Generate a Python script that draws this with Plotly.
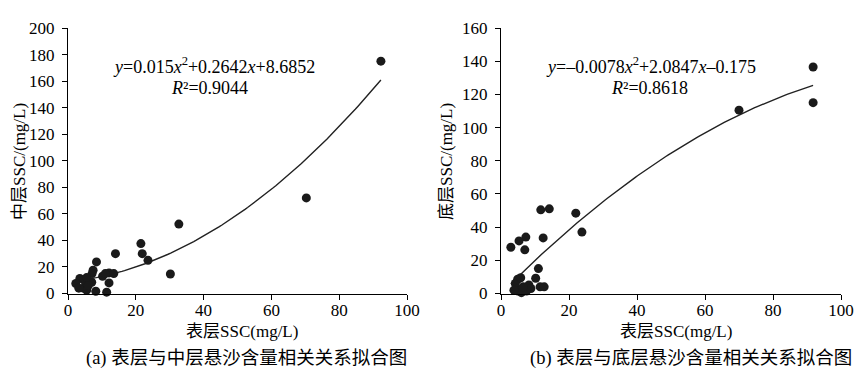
import numpy as np
import plotly.graph_objects as go

# ---- data ----
a_surface = [92.3, 70.3, 32.7, 21.5, 21.9, 23.6, 30.2, 14.0, 8.4, 7.4, 7.1, 12.1, 10.2, 12.1,
             8.2, 11.4, 3.5, 2.3, 4.5, 5.5, 3.2, 7.0, 4.8, 5.5, 6.0, 13.5, 11.0]
a_middle = [175.0, 72.0, 52.3, 37.6, 30.0, 25.0, 14.7, 30.0, 23.8, 17.5, 15.0, 15.5, 13.0, 8.0,
            1.7, 1.0, 11.3, 7.5, 4.0, 2.5, 4.0, 8.5, 10.0, 12.0, 6.0, 15.0, 15.0]

b_surface = [91.8, 91.8, 70.0, 22.0, 23.8, 11.7, 14.2, 12.4, 7.3, 5.3, 7.0, 2.9, 11.0, 10.2,
             11.5, 12.7, 8.2, 4.9, 4.2, 4.5, 5.0, 6.0, 7.5, 8.8, 6.5, 3.8, 5.8]
b_bottom = [136.5, 115.0, 110.5, 48.4, 37.0, 50.4, 51.0, 33.5, 34.0, 31.7, 26.3, 27.9, 15.0, 9.2,
            4.0, 4.0, 5.1, 8.6, 6.0, 3.0, 1.5, 0.5, 1.5, 3.0, 4.0, 2.0, 9.5]

# fitted polynomial coefficients printed on the chart (c2, c1, c0)
a_coef = [0.015, 0.2642, 8.6852]
b_coef = [-0.0078, 2.0847, -0.175]

x_ticks = [0, 20, 40, 60, 80, 100]
a_y_ticks = [0, 20, 40, 60, 80, 100, 120, 140, 160, 180, 200]
b_y_ticks = [0, 20, 40, 60, 80, 100, 120, 140, 160]

# page body has an 8px default margin; size the figure to fill the rest of the window
OFF = 8
W, H = 862 - OFF, 382 - OFF
def px(x): return (x - OFF) / W
def py(y): return 1 - (y - OFF) / H

SERIF = "Liberation Serif, Noto Sans CJK SC"
CJK = "Liberation Serif, Noto Sans CJK SC"

fig = go.Figure()

def trend(xs, coef):
    xx = np.linspace(min(xs), max(xs), 120)
    return xx, coef[0] * xx ** 2 + coef[1] * xx + coef[2]

tx, ty = trend(a_surface, a_coef)
fig.add_trace(go.Scatter(x=tx, y=ty, mode="lines", line=dict(color="#222", width=1.4),
                         xaxis="x", yaxis="y", showlegend=False))
fig.add_trace(go.Scatter(x=a_surface, y=a_middle, mode="markers",
                         marker=dict(color="#1a1a1a", size=9),
                         xaxis="x", yaxis="y", showlegend=False, cliponaxis=False))

tx, ty = trend(b_surface, b_coef)
fig.add_trace(go.Scatter(x=tx, y=ty, mode="lines", line=dict(color="#222", width=1.4),
                         xaxis="x2", yaxis="y2", showlegend=False))
fig.add_trace(go.Scatter(x=b_surface, y=b_bottom, mode="markers",
                         marker=dict(color="#1a1a1a", size=9),
                         xaxis="x2", yaxis="y2", showlegend=False, cliponaxis=False))

axis_common = dict(showline=True, linecolor="black", linewidth=1.3, ticks="outside",
                   ticklen=5, tickwidth=1, tickcolor="black", showgrid=False, zeroline=False,
                   automargin=False,
                   tickfont=dict(family=SERIF, size=17, color="black"))
xa = dict(axis_common, ticklabelstandoff=-4)
ya = dict(axis_common, ticklabelstandoff=4)

top, bottom = py(28), py(293.5)
fig.update_layout(
    template="none",
    width=W, height=H, margin=dict(l=0, r=0, t=0, b=0),
    paper_bgcolor="white", plot_bgcolor="white",
    xaxis=dict(domain=[px(68), px(407)], range=[0, 100], tickvals=x_ticks, anchor="y", **xa),
    yaxis=dict(domain=[bottom, top], range=[0, 200], tickvals=a_y_ticks, anchor="x", **ya),
    xaxis2=dict(domain=[px(501), px(841)], range=[0, 100], tickvals=x_ticks, anchor="y2", **xa),
    yaxis2=dict(domain=[bottom, top], range=[0, 160], tickvals=b_y_ticks, anchor="x2", **ya),
)

def ann(x, y, text, size, angle=0, family=SERIF):
    fig.add_annotation(x=px(x), y=py(y), xref="paper", yref="paper", text=text, showarrow=False,
                       textangle=angle, font=dict(family=family, size=size, color="black"),
                       xanchor="center", yanchor="middle")

ann(214, 66, "<i>y</i>=0.015<i>x</i><sup>2</sup>+0.2642<i>x</i>+8.6852", 18)
ann(209, 88, "<i>R</i>²=0.9044", 18)
ann(651, 66, "<i>y</i>=–0.0078<i>x</i><sup>2</sup>+2.0847<i>x</i>–0.175", 18)
ann(649, 88, "<i>R</i>²=0.8618", 18)

ann(242, 331, "表层SSC(mg/L)", 17, family=CJK)
ann(676, 331, "表层SSC(mg/L)", 17, family=CJK)
ann(247, 358, "(a) 表层与中层悬沙含量相关关系拟合图", 18.5, family=CJK)
ann(691, 358, "(b) 表层与底层悬沙含量相关关系拟合图", 18.5, family=CJK)
ann(19, 162, "中层SSC/(mg/L)", 17, angle=-90, family=CJK)
ann(446, 162, "底层SSC/(mg/L)", 17, angle=-90, family=CJK)

fig.write_html("out.html")
